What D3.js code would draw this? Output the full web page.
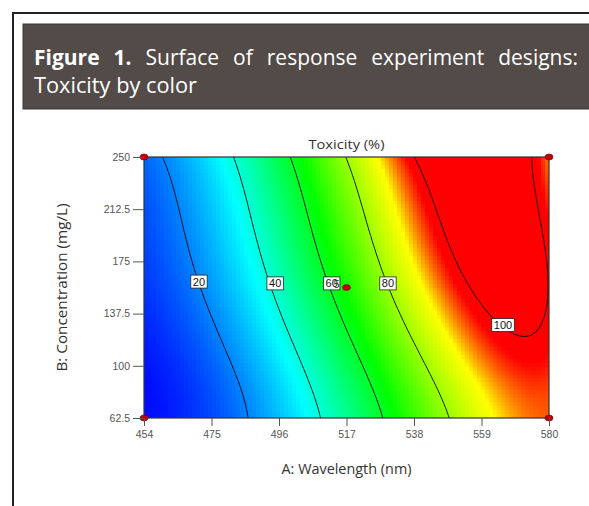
<!DOCTYPE html>
<html><head><meta charset="utf-8">
<script src="https://cdn.jsdelivr.net/npm/d3@7"></script>
<style>
body{margin:0;background:#fff;}
svg{display:block;}
</style></head><body>
<svg id="c" width="589" height="506"></svg>
<script>
// ---------- data ----------
const xTicks = [454, 475, 496, 517, 538, 559, 580];
const yTicks = [62.5, 100, 137.5, 175, 212.5, 250];
const yTickLabels = ["62.5", "100", "137.5", "175", "212.5", "250"];
const contourLevels = [20, 40, 60, 80, 100];
// traced points of each contour line [A (nm), B (mg/L)]
const trace20 = [[459.3,250],[464.3,212.0],[469.2,173.9],[471.4,155.9],[478.6,102.0],[485.4,62.5]];
const trace40 = [[482.3,250],[487.0,211.9],[493.2,163.1],[494.8,154.5],[501.6,113.5],[509.4,62.5]];
const trace60 = [[499.4,250],[505.0,206.9],[510.9,163.8],[512.5,152.3],[520.3,113.5],[528.4,62.5]];
const trace80 = [[516.2,250],[522.1,206.9],[528.4,163.8],[529.9,152.3],[538.9,113.5],[548.6,62.5]];
const trace100 = [[538.3,250],[545.2,206.9],[552.9,163.8],[554.5,156.6],[563.8,132.9],[571.0,120.0],
                  [576.3,125.7],[578.8,137.9],[579.4,161.6],[576.3,206.9],[574.4,229.9],[573.2,250]];
// estimated response at points on the right edge and the corners [A, B, toxicity]
const edgeValues = [[580,250,97],[580,206.9,98.5],[580,62.5,95],[454,62.5,4],[454,250,16]];
// label positions of the contour levels [A, B]
const labelPos = [[471.1,160.5],[494.8,159.2],[512.4,159.2],[529.9,159.2],[565.7,129.3]];
// design points
const designA = [454, 580, 454, 580, 517];
const designB = [62.5, 62.5, 250, 250, 156.25];
const centerRuns = "5";
// colour ramp: toxicity value at each colour stop
const colorStopValues = [3, 36, 64, 90, 98];
const colorStops = ["#0000ff", "#00ffff", "#00ff00", "#ffff00", "#ff0000"];

// ---------- layout ----------
const svg = d3.select("#c");
const x = d3.scaleLinear().domain([454, 580]).range([144, 549]);
const y = d3.scaleLinear().domain([62.5, 250]).range([418, 157]);

// ---------- response surface fitted to the traced contour points ----------
const code = (A, B) => [(A - 517) / 63, (B - 156.25) / 93.75];
const basis = (A, B) => { const [a, b] = code(A, B);
  return [1, a, b, a*b, a*a, b*b, a*a*b, a*b*b, a*a*a, b*b*b,
          a*a*a*a, a*a*a*b, a*a*b*b, a*b*b*b, b*b*b*b]; };
const obs = [];
[trace20, trace40, trace60, trace80, trace100].forEach((t, k) =>
  t.forEach(p => obs.push([p[0], p[1], contourLevels[k], k === 4 ? 2 : 1])));
edgeValues.forEach(p => obs.push([...p, 1]));
function solve(M, v) {
  const n = v.length, S = M.map((r, i) => [...r, v[i]]);
  for (let i = 0; i < n; i++) {
    let p = i; for (let k = i + 1; k < n; k++) if (Math.abs(S[k][i]) > Math.abs(S[p][i])) p = k;
    [S[i], S[p]] = [S[p], S[i]];
    for (let k = i + 1; k < n; k++) { const f = S[k][i] / S[i][i]; for (let j = i; j <= n; j++) S[k][j] -= f * S[i][j]; }
  }
  const r = new Array(n).fill(0);
  for (let i = n - 1; i >= 0; i--) { let s = S[i][n]; for (let j = i + 1; j < n; j++) s -= S[i][j] * r[j]; r[i] = s / S[i][i]; }
  return r;
}
const nb = basis(500, 100).length;
const XtX = d3.range(nb).map(() => new Array(nb).fill(0)), Xty = new Array(nb).fill(0);
obs.forEach(([A, B, v, w]) => { const f = basis(A, B);
  for (let i = 0; i < nb; i++) { Xty[i] += w * f[i] * v; for (let j = 0; j < nb; j++) XtX[i][j] += w * f[i] * f[j]; } });
for (let i = 0; i < nb; i++) XtX[i][i] += 1e-4;
const coef = solve(XtX, Xty);
const model = (A, B) => d3.sum(basis(A, B), (f, i) => f * coef[i]);

// ---------- colour cells ----------
const NX = 101, NY = 66;
const dAc = 126 / NX, dBc = 187.5 / NY;
const cells = [];
for (let j = 0; j < NY; j++) for (let i = 0; i < NX; i++) {
  const A0 = 454 + i * dAc, B0 = 250 - j * dBc;
  cells.push({A0, B0, v: model(A0 + dAc / 2, B0 - dBc / 2)});
}
const color = d3.scaleLinear().domain(colorStopValues)
  .range(colorStops).interpolate(d3.interpolateRgb).clamp(true);

svg.append("defs").append("clipPath").attr("id", "plotclip")
  .append("rect").attr("x", x(454)).attr("y", y(250))
  .attr("width", x(580) - x(454)).attr("height", y(62.5) - y(250));

const plot = svg.append("g").attr("clip-path", "url(#plotclip)");
plot.append("g").selectAll("rect").data(cells).join("rect")
  .attr("x", d => x(d.A0)).attr("y", d => y(d.B0))
  .attr("width", x(454 + dAc) - x(454) + 0.6)
  .attr("height", y(62.5) - y(62.5 + dBc) + 0.6)
  .attr("fill", d => color(d.v)).attr("shape-rendering", "crispEdges");

// ---------- contour lines ----------
const pad = 3, gx = 150, gy = 100, dA = 126 / gx, dB = 187.5 / gy;
const nx = gx + 1 + 2 * pad, ny = gy + 1 + 2 * pad;
const grid = new Array(nx * ny);
for (let j = 0; j < ny; j++) for (let i = 0; i < nx; i++)
  grid[j * nx + i] = model(454 + (i - pad) * dA, 250 - (j - pad) * dB);
const contours = d3.contours().size([nx, ny]).thresholds(contourLevels)(grid);
const proj = d3.geoTransform({ point: function (cx, cy) {
  this.stream.point(x(454 + (cx - 0.5 - pad) * dA), y(250 - (cy - 0.5 - pad) * dB)); } });
plot.append("g").selectAll("path").data(contours).join("path")
  .attr("d", d3.geoPath(proj)).attr("fill", "none")
  .attr("stroke", "#000").attr("stroke-width", 0.9);

// plot frame
svg.append("rect").attr("x", x(454)).attr("y", y(250))
  .attr("width", x(580) - x(454)).attr("height", y(62.5) - y(250))
  .attr("fill", "none").attr("stroke", "#333").attr("stroke-width", 1.2);

// ---------- contour labels ----------
const lab = svg.append("g").style("font-family", "Liberation Sans, Arial, sans-serif").style("font-size", "11px");
contourLevels.forEach((lv, k) => {
  const cx = x(labelPos[k][0]), cy = y(labelPos[k][1]);
  const w = String(lv).length * 6.2 + 4;
  lab.append("rect").attr("x", cx - w / 2).attr("y", cy - 6.5).attr("width", w).attr("height", 13)
    .attr("fill", "#fff").attr("stroke", "#222").attr("stroke-width", 0.8);
  lab.append("text").attr("x", cx).attr("y", cy + 4).attr("text-anchor", "middle").attr("fill", "#111").text(lv);
});

// ---------- design points ----------
svg.append("g").selectAll("ellipse").data(designA).join("ellipse")
  .attr("cx", (d, i) => x(d)).attr("cy", (d, i) => y(designB[i]))
  .attr("rx", 4).attr("ry", 3).attr("fill", "#c00000").attr("stroke", "#7a0000").attr("stroke-width", 0.6);
svg.append("text").attr("x", x(517) - 7).attr("y", y(156.25) + 0.5)
  .attr("text-anchor", "end").style("font-family", "Liberation Sans, Arial, sans-serif")
  .style("font-size", "11px").attr("fill", "#333").text(centerRuns);

// ---------- axes ----------
const tickFont = "Liberation Sans, Arial, sans-serif";
const xa = svg.append("g").attr("transform", `translate(0,${y(62.5)})`)
  .call(d3.axisBottom(x).tickValues(xTicks).tickSize(8).tickPadding(5).tickSizeOuter(0));
const ya = svg.append("g").attr("transform", `translate(${x(454)},0)`)
  .call(d3.axisLeft(y).tickValues(yTicks).tickFormat((d, i) => yTickLabels[i]).tickSize(11).tickPadding(3).tickSizeOuter(0));
[xa, ya].forEach(g => {
  g.select(".domain").remove();
  g.selectAll(".tick line").attr("stroke", "#555");
  g.selectAll(".tick text").attr("fill", "#555").style("font-family", tickFont).style("font-size", "10.5px");
});

// titles
const midX = (x(454) + x(580)) / 2;
svg.append("text").attr("x", midX).attr("y", 149).attr("text-anchor", "middle")
  .attr("textLength", 76).attr("lengthAdjust", "spacingAndGlyphs")
  .style("font-family", "Open Sans, sans-serif").style("font-size", "13.5px").attr("fill", "#333").text("Toxicity (%)");
svg.append("text").attr("x", midX).attr("y", 474).attr("text-anchor", "middle")
  .attr("textLength", 130).attr("lengthAdjust", "spacingAndGlyphs")
  .style("font-family", "Open Sans, sans-serif").style("font-size", "15px").attr("fill", "#333").text("A: Wavelength (nm)");
svg.append("text").attr("transform", `translate(67,${(y(62.5) + y(250)) / 2}) rotate(-90)`)
  .attr("text-anchor", "middle").attr("textLength", 168).attr("lengthAdjust", "spacingAndGlyphs")
  .style("font-family", "Open Sans, sans-serif").style("font-size", "15px").attr("fill", "#333").text("B: Concentration (mg/L)");

// ---------- frame and header ----------
svg.append("path").attr("d", "M13,506 V13 H589").attr("fill", "none").attr("stroke", "#222").attr("stroke-width", 2);
svg.append("rect").attr("x", 23).attr("y", 24).attr("width", 570).attr("height", 85)
  .attr("fill", "#524b48").attr("stroke", "#3e3835").attr("stroke-width", 1);
const hdrWords = [["Figure", true], ["1.", true], ["Surface", false], ["of", false], ["response", false], ["experiment", false], ["designs:", false]];
const hg = svg.append("g").style("font-family", "Open Sans, sans-serif").style("font-size", "21px").attr("fill", "#fff");
const ws = hdrWords.map(([w, b]) => hg.append("text").attr("y", 65).style("font-weight", b ? "700" : "400").text(w));
const widths = ws.map(t => t.node().getComputedTextLength());
const gap = (578 - 34 - d3.sum(widths)) / (ws.length - 1);
let cxh = 34;
ws.forEach((t, i) => { t.attr("x", cxh); cxh += widths[i] + gap; });
hg.append("text").attr("x", 34).attr("y", 93).attr("textLength", 163).attr("lengthAdjust", "spacingAndGlyphs").text("Toxicity by color");
</script>
</body></html>
